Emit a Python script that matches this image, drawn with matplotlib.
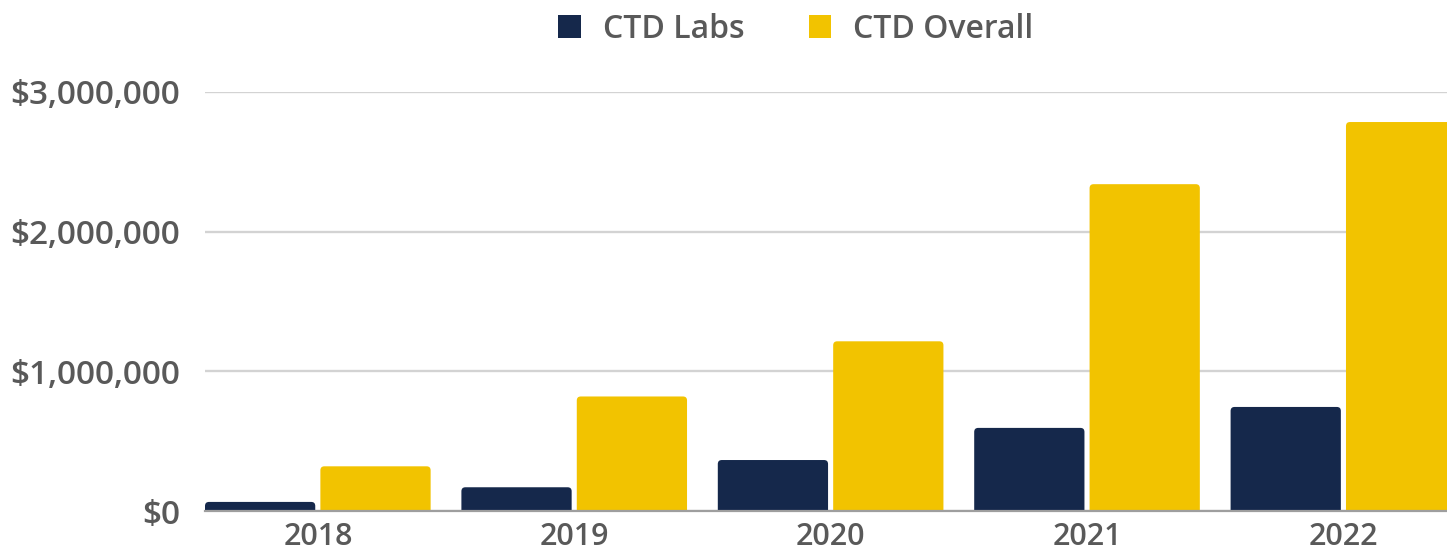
import numpy as np
import matplotlib
matplotlib.use("Agg")
import matplotlib.pyplot as plt
from matplotlib.patches import FancyBboxPatch
from matplotlib.ticker import FuncFormatter

years = ["2018", "2019", "2020", "2021", "2022"]
labs = [65000, 170000, 365000, 595000, 745000]
overall = [320000, 820000, 1215000, 2340000, 2785000]
series_names = ["CTD Labs", "CTD Overall"]
y_ticks = [0, 1000000, 2000000, 3000000]

NAVY = "#15284B"
GOLD = "#F2C300"
TEXT = "#595959"

plt.rcParams['font.family'] = ['Open Sans', 'DejaVu Sans']
plt.rcParams['font.weight'] = 'semibold'

fig = plt.figure(figsize=(14.47, 5.54), dpi=100)
ax = fig.add_axes([205 / 1447, 43 / 554, 1 - 205 / 1447, 419 / 554])

x = np.arange(len(years))
w = 0.43
off = 0.225
b1 = ax.bar(x - off, labs, w, color=NAVY, label=series_names[0])
b2 = ax.bar(x + off, overall, w, color=GOLD, label=series_names[1])

ax.set_xlim(-0.44, -0.44 + 1242 / 256.4)
ax.set_ylim(0, 3000000)

# swap plain bars for ones with rounded top corners
px_x = 1 / 256.4
px_y = 3000000 / 419
r = 4 * px_x
aspect = px_y / px_x
for bars in (b1, b2):
    for b in bars:
        b.set_visible(False)
        p = FancyBboxPatch((b.get_x(), -6 * px_y), b.get_width(), b.get_height() + 6 * px_y,
                           boxstyle="round,pad=0,rounding_size=%f" % r,
                           mutation_aspect=aspect, facecolor=b.get_facecolor(),
                           edgecolor="none", zorder=2)
        ax.add_patch(p)

ax.set_yticks(y_ticks)
ax.yaxis.set_major_formatter(FuncFormatter(lambda v, _: "${:,.0f}".format(v)))
ax.set_xticks(x)
ax.set_xticklabels(years)
ax.grid(axis="y", color="#D3D3D3", linewidth=1.7, zorder=0)
ax.set_axisbelow(True)
for s in ["top", "right", "left"]:
    ax.spines[s].set_visible(False)
ax.spines["bottom"].set_color("#9E9E9E")
ax.spines["bottom"].set_linewidth(1.6)
ax.spines["bottom"].set_zorder(3)
ax.tick_params(axis="y", length=0, pad=18, labelsize=24, labelcolor=TEXT)
ax.tick_params(axis="x", length=0, pad=8, labelsize=22, labelcolor=TEXT)

leg = fig.legend(handles=[b1, b2], loc="center", bbox_to_anchor=(796 / 1447, 1 - 29 / 554),
                 ncol=2, frameon=False, fontsize=23, handlelength=0.7, handleheight=0.7,
                 handletextpad=0.7, columnspacing=2.0)
for t in leg.get_texts():
    t.set_color(TEXT)
for h in leg.legend_handles:
    h.set_visible(True)

fig.savefig("out.png", dpi=100)
